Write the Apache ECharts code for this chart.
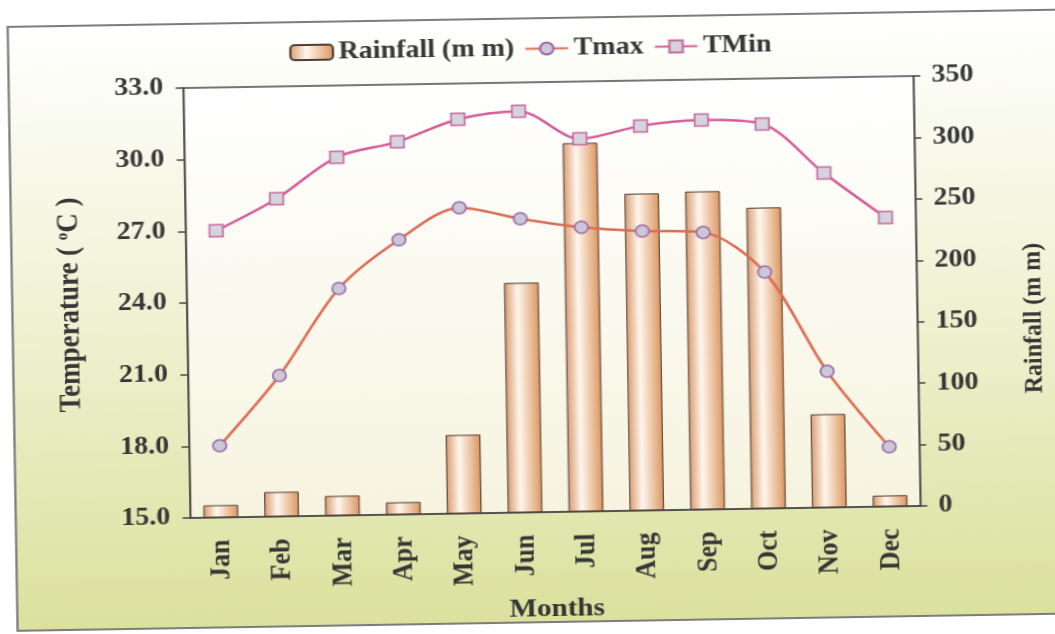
<!DOCTYPE html>
<html>
<head>
<meta charset="utf-8">
<script src="https://cdn.jsdelivr.net/npm/echarts@6/dist/echarts.min.js"></script>
<style>
  html, body { margin: 0; padding: 0; width: 1055px; height: 634px; overflow: hidden; background: #ffffff; }
  /* the sheet sits slightly tilted and a touch wide, like a scanned figure */
  #chart {
    position: absolute; left: 0; top: 0; width: 1120px; height: 634px;
    transform-origin: 552px 297px;
    transform: rotate(-0.94deg) scaleX(1.12);
  }
</style>
</head>
<body>
<div id="chart"></div>
<script>
// Monthly climate values
const months = ['Jan', 'Feb', 'Mar', 'Apr', 'May', 'Jun', 'Jul', 'Aug', 'Sep', 'Oct', 'Nov', 'Dec'];
const rainfall = [10, 20, 16, 10, 64, 187, 300, 258, 259, 245, 76, 9];
const tmax = [18.0, 20.9, 24.5, 26.5, 27.8, 27.3, 26.9, 26.7, 26.6, 24.9, 20.7, 17.5];
const tmin = [27.0, 28.3, 30.0, 30.6, 31.5, 31.8, 30.6, 31.1, 31.3, 31.1, 29.0, 27.1];

// Axis tick values
const tempTicks = [15, 18, 21, 24, 27, 30, 33];
const rainTicks = [0, 50, 100, 150, 200, 250, 300, 350];

const FONT = "'Liberation Serif', 'Times New Roman', serif";
const INK = '#363636';
const AXIS = '#4a4a4a';

const chart = echarts.init(document.getElementById('chart'), null, { renderer: 'canvas' });

const barFill = new echarts.graphic.LinearGradient(0, 0, 1, 0, [
  { offset: 0, color: '#d99a6e' },
  { offset: 0.38, color: '#fff7ee' },
  { offset: 1, color: '#dc965f' }
]);

const option = {
  animation: false,
  backgroundColor: '#ffffff',
  graphic: [{
    type: 'rect',
    z: -10,
    silent: true,
    shape: { x: 70, y: 18, width: 1100, height: 604 },
    style: {
      fill: new echarts.graphic.LinearGradient(0, 0, 0, 1, [
        { offset: 0, color: '#ffffff' },
        { offset: 0.45, color: '#f1f3d6' },
        { offset: 1, color: '#dbe19d' }
      ]),
      stroke: '#7c7c7c',
      lineWidth: 2
    }
  }],
  legend: {
    left: 316,
    top: 31,
    itemWidth: 38,
    itemHeight: 15,
    itemGap: 9,
    textStyle: { fontFamily: FONT, fontWeight: 'bold', fontSize: 25, color: INK },
    data: ['Rainfall (m m)', 'Tmax', 'TMin']
  },
  grid: {
    left: 226, top: 82, width: 652, height: 430,
    show: true,
    backgroundColor: new echarts.graphic.LinearGradient(0, 0, 0, 1, [
      { offset: 0, color: '#ffffff' },
      { offset: 1, color: '#f6f4df' }
    ]),
    borderColor: AXIS,
    borderWidth: 1.5
  },
  xAxis: {
    type: 'category',
    data: months,
    name: 'Months',
    nameLocation: 'middle',
    nameGap: 84,
    nameTextStyle: { fontFamily: FONT, fontWeight: 'bold', fontSize: 26, color: INK },
    axisLine: { lineStyle: { color: AXIS, width: 1.5 } },
    axisTick: { show: false },
    axisLabel: {
      rotate: 90, margin: 22,
      fontFamily: FONT, fontWeight: 'bold', fontSize: 26, color: INK
    }
  },
  yAxis: [{
    type: 'value',
    position: 'left',
    min: tempTicks[0],
    max: tempTicks[tempTicks.length - 1],
    interval: tempTicks[1] - tempTicks[0],
    name: 'Temperature ( {sup|o}C )',
    nameLocation: 'middle',
    nameGap: 90,
    nameTextStyle: {
      fontFamily: FONT, fontWeight: 'bold', fontSize: 27, color: INK,
      rich: {
        sup: { fontFamily: FONT, fontWeight: 'bold', fontSize: 15, color: INK, verticalAlign: 'top', padding: [0, 0, 11, 0] }
      }
    },
    axisLine: { show: true, lineStyle: { color: AXIS, width: 1.5 } },
    axisTick: { show: true, length: 7, lineStyle: { color: AXIS, width: 1.5 } },
    splitLine: { show: false },
    axisLabel: {
      margin: 18,
      formatter: v => v.toFixed(1),
      fontFamily: FONT, fontWeight: 'bold', fontSize: 25, color: INK
    }
  }, {
    type: 'value',
    position: 'right',
    min: rainTicks[0],
    max: rainTicks[rainTicks.length - 1],
    interval: rainTicks[1] - rainTicks[0],
    name: 'Rainfall (m m)',
    nameLocation: 'middle',
    nameGap: 92,
    nameTextStyle: {
      fontFamily: FONT, fontWeight: 'bold', fontSize: 24, color: INK,
      padding: [0, 58, 0, 0]
    },
    axisLine: { show: true, lineStyle: { color: AXIS, width: 1.5 } },
    axisTick: { show: true, length: 6, lineStyle: { color: AXIS, width: 1.5 } },
    splitLine: { show: false },
    axisLabel: {
      margin: 16,
      fontFamily: FONT, fontWeight: 'bold', fontSize: 25, color: INK
    }
  }],
  series: [{
    name: 'Rainfall (m m)',
    type: 'bar',
    yAxisIndex: 1,
    data: rainfall,
    barWidth: 31,
    itemStyle: { color: barFill, borderColor: '#4e3d33', borderWidth: 1 },
    z: 1
  }, {
    name: 'Tmax',
    type: 'line',
    yAxisIndex: 0,
    data: tmax,
    smooth: 0.3,
    symbol: 'circle',
    symbolSize: 12,
    lineStyle: { color: '#da6e55', width: 2.5 },
    itemStyle: { color: '#cbc7d8', borderColor: '#9a67a6', borderWidth: 1.5 },
    z: 3
  }, {
    name: 'TMin',
    type: 'line',
    yAxisIndex: 0,
    data: tmin,
    smooth: 0.3,
    symbol: 'rect',
    symbolSize: 12,
    lineStyle: { color: '#d45f98', width: 2.5 },
    itemStyle: { color: '#d6d2de', borderColor: '#c46a9c', borderWidth: 1.5 },
    z: 3
  }]
};

chart.setOption(option);
</script>
</body>
</html>
